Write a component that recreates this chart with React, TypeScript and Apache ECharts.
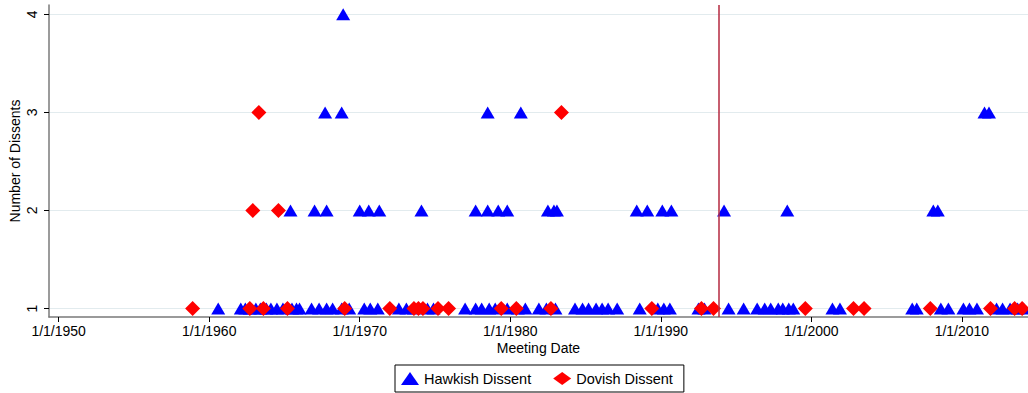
import React, { useEffect, useRef } from "react";
import * as echarts from "echarts";

const xTickYears = [1950, 1960, 1970, 1980, 1990, 2000, 2010];
const yTicks = [1, 2, 3, 4];

const hawkish1 = [1960.6, 1962.1, 1962.4, 1962.7, 1963.1, 1963.4, 1963.8, 1964.1, 1964.5, 1964.9, 1965.5, 1965.8, 1966.0, 1966.8, 1967.3, 1967.8, 1968.2, 1968.8, 1969.3, 1970.3, 1970.7, 1971.2, 1972.6, 1973.1, 1973.6, 1974.5, 1974.9, 1977.0, 1977.7, 1978.1, 1978.6, 1979.0, 1979.8, 1980.5, 1981.0, 1981.9, 1982.4, 1983.0, 1984.3, 1984.8, 1985.2, 1985.7, 1986.1, 1986.5, 1987.1, 1988.6, 1989.8, 1990.2, 1990.6, 1992.5, 1992.9, 1994.5, 1995.5, 1996.4, 1996.9, 1997.3, 1997.8, 1998.1, 1998.5, 1998.8, 2001.4, 2001.9, 2006.7, 2007.0, 2008.6, 2009.1, 2010.1, 2010.5, 2011.0, 2012.3, 2012.7, 2013.2, 2013.7, 2014.1];
const hawkish2 = [1965.4, 1967.0, 1967.8, 1970.0, 1970.6, 1971.3, 1974.1, 1977.7, 1978.5, 1979.2, 1979.8, 1982.5, 1982.9, 1983.1, 1988.4, 1989.1, 1990.1, 1990.7, 1994.2, 1998.4, 2008.1, 2008.4];
const hawkish3 = [1967.7, 1968.8, 1978.5, 1980.7, 2011.5, 2011.8];
const hawkish4 = [1968.9];

const dovish1 = [1958.9, 1962.7, 1963.6, 1965.2, 1969.0, 1972.0, 1973.6, 1973.9, 1974.2, 1975.2, 1975.9, 1979.4, 1980.4, 1982.7, 1989.4, 1992.7, 1993.5, 1999.6, 2002.8, 2003.5, 2007.9, 2011.9, 2013.5, 2014.0];
const dovish2 = [1962.9, 1964.6];
const dovish3 = [1963.3, 1983.4];

const policyLineYear = 1993.85;

function pairs(years: number[], n: number) {
  return years.map((y) => [y, n]);
}

const hawkishData = [
  ...pairs(hawkish1, 1),
  ...pairs(hawkish2, 2),
  ...pairs(hawkish3, 3),
  ...pairs(hawkish4, 4),
];
const dovishData = [
  ...pairs(dovish1, 1),
  ...pairs(dovish2, 2),
  ...pairs(dovish3, 3),
];

const FONT = "'Liberation Sans', Arial, sans-serif";

export default function App() {
  const ref = useRef<HTMLDivElement>(null);
  useEffect(() => {
    if (!ref.current) return;
    const chart = echarts.init(ref.current, undefined, { renderer: "svg" });
    chart.setOption({
      animation: false,
      backgroundColor: "#ffffff",
      textStyle: { fontFamily: FONT },
      grid: { left: 49, right: 0, top: 5, bottom: 76, containLabel: false, outerBoundsMode: "none" },
      legend: {
        left: 395,
        bottom: 1,
        orient: "horizontal",
        borderColor: "#000",
        borderWidth: 1,
        padding: [6, 11, 6, 6],
        itemGap: 22,
        itemWidth: 18,
        itemHeight: 13,
        symbolKeepAspect: true,
        textStyle: { fontSize: 14.5, color: "#000", fontFamily: FONT },
        data: ["Hawkish Dissent", "Dovish Dissent"],
      },
      xAxis: {
        type: "value",
        min: 1949.36,
        max: 2014.39,
        name: "Meeting Date",
        nameLocation: "middle",
        nameGap: 24,
        nameMoveOverlap: false,
        nameTextStyle: { fontSize: 14, color: "#000", fontFamily: FONT },
        axisLine: { show: true, lineStyle: { color: "#7a7a7a", width: 1.5 } },
        axisTick: { show: true, length: 5, lineStyle: { color: "#000" }, customValues: xTickYears },
        axisLabel: {
          customValues: xTickYears,
          fontSize: 14,
          color: "#000",
          margin: 7,
          fontFamily: FONT,
          formatter: (v: number) => "1/1/" + Math.round(v),
        },
        splitLine: { show: false },
      },
      yAxis: {
        type: "value",
        min: 0.914,
        max: 4.095,
        name: "Number of Dissents",
        nameLocation: "middle",
        nameGap: 27,
        nameMoveOverlap: false,
        nameTextStyle: { fontSize: 14, color: "#000", fontFamily: FONT },
        axisLine: { show: true, lineStyle: { color: "#7a7a7a", width: 1.5 } },
        axisTick: { show: true, length: 5, lineStyle: { color: "#000" }, customValues: yTicks },
        axisLabel: {
          customValues: yTicks,
          fontSize: 14,
          color: "#000",
          rotate: 90,
          margin: 10,
          fontFamily: FONT,
        },
        splitLine: { show: true, lineStyle: { color: "#e2ebee", width: 1 } },
      },
      series: [
        {
          name: "Hawkish Dissent",
          type: "scatter",
          symbol: "triangle",
          symbolSize: [14, 12],
          itemStyle: { color: "#0000ff", opacity: 1 },
          data: hawkishData,
          markLine: {
            silent: true,
            symbol: "none",
            label: { show: false },
            lineStyle: { color: "#b5283f", width: 1.5, type: "solid" },
            data: [{ xAxis: policyLineYear }],
          },
        },
        {
          name: "Dovish Dissent",
          type: "scatter",
          symbol: "diamond",
          symbolSize: [15, 15],
          itemStyle: { color: "#ff0000", opacity: 1 },
          data: dovishData,
        },
      ],
    });
    return () => chart.dispose();
  }, []);
  return (
    <div
      ref={ref}
      style={{ position: "fixed", left: 0, top: 0, width: 1028, height: 393 }}
    />
  );
}
